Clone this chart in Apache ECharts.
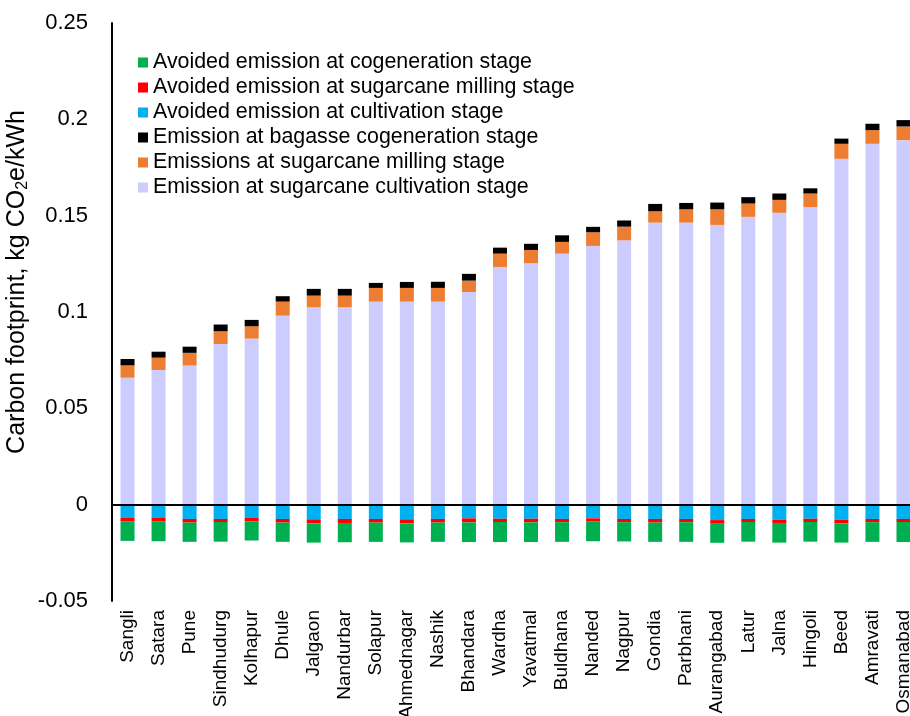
<!DOCTYPE html>
<html>
<head>
<meta charset="utf-8">
<script src="https://cdn.jsdelivr.net/npm/echarts@6/dist/echarts.min.js"></script>
<style>
  html, body { margin: 0; padding: 0; background: #fff; overflow: hidden; }
  #chart { width: 910px; height: 716px; }
</style>
</head>
<body>
<div id="chart"></div>
<script>
// Districts (x categories)
var districts = ['Sangli', 'Satara', 'Pune', 'Sindhudurg', 'Kolhapur', 'Dhule', 'Jalgaon', 'Nandurbar',
  'Solapur', 'Ahmednagar', 'Nashik', 'Bhandara', 'Wardha', 'Yavatmal', 'Buldhana', 'Nanded', 'Nagpur',
  'Gondia', 'Parbhani', 'Aurangabad', 'Latur', 'Jalna', 'Hingoli', 'Beed', 'Amravati', 'Osmanabad'];

// Emissions, kg CO2e/kWh
var cultivation = [0.0659, 0.0699, 0.0722, 0.0834, 0.0862, 0.0981, 0.1024, 0.1024, 0.1054, 0.1054, 0.1054,
  0.1104, 0.1234, 0.1253, 0.1303, 0.1343, 0.1372, 0.1464, 0.1464, 0.1452, 0.1494, 0.1515, 0.1544, 0.1795,
  0.1873, 0.1892];
var milling = [0.0064, 0.0064, 0.0066, 0.0066, 0.0064, 0.0073, 0.0061, 0.0061, 0.0071, 0.0071, 0.0071,
  0.0059, 0.0069, 0.0069, 0.0061, 0.0071, 0.0071, 0.0059, 0.0069, 0.0081, 0.0069, 0.0067, 0.0071, 0.0078,
  0.0071, 0.0071];
var cogeneration = [0.0033, 0.0031, 0.0032, 0.0035, 0.0033, 0.0028, 0.0035, 0.0035, 0.0026, 0.0031, 0.0032,
  0.0035, 0.0031, 0.0032, 0.0034, 0.0028, 0.0032, 0.0038, 0.0033, 0.0035, 0.0033, 0.0033, 0.0027, 0.0027,
  0.0033, 0.0033];

// Avoided emissions (negative), kg CO2e/kWh
var avoidedCultivation = [-0.0069, -0.0069, -0.0074, -0.0074, -0.0069, -0.0074, -0.0076, -0.0074, -0.0074,
  -0.0076, -0.0074, -0.0071, -0.0073, -0.0073, -0.0074, -0.0071, -0.0074, -0.0074, -0.0074, -0.0080, -0.0074,
  -0.0078, -0.0073, -0.0078, -0.0074, -0.0074];
var avoidedMilling = [-0.0019, -0.0019, -0.0019, -0.0016, -0.0017, -0.0019, -0.0021, -0.0021, -0.0019,
  -0.0021, -0.0019, -0.0021, -0.0017, -0.0019, -0.0017, -0.0017, -0.0017, -0.0019, -0.0017, -0.0019, -0.0016,
  -0.0017, -0.0017, -0.0019, -0.0017, -0.0016];
var avoidedCogeneration = [-0.0100, -0.0102, -0.0100, -0.0102, -0.0100, -0.0100, -0.0100, -0.0100, -0.0100,
  -0.0099, -0.0100, -0.0102, -0.0104, -0.0102, -0.0102, -0.0102, -0.0100, -0.0100, -0.0102, -0.0099, -0.0102,
  -0.0102, -0.0102, -0.0100, -0.0102, -0.0104];

var FONT = '"Liberation Sans", Arial, sans-serif';

function bar(name, data, color, extra) {
  var s = {
    name: name,
    type: 'bar',
    stack: 'total',
    barWidth: 14,
    data: data,
    itemStyle: { color: color },
    emphasis: { disabled: true }
  };
  if (extra) { for (var k in extra) s[k] = extra[k]; }
  return s;
}

var chart = echarts.init(document.getElementById('chart'), null, { renderer: 'canvas' });

chart.setOption({
  animation: false,
  backgroundColor: '#ffffff',
  // the last category band runs a little past the right edge of the canvas,
  // and the long district names are allowed to run off the bottom
  grid: { left: 112, width: 807, top: 23, bottom: 115, containLabel: false, outerBoundsMode: 'none' },
  legend: {
    orient: 'vertical',
    left: 133,
    top: 47,
    icon: 'rect',
    itemWidth: 10,
    itemHeight: 10,
    itemGap: 4,
    textStyle: { fontFamily: FONT, fontSize: 21.4, color: '#000', lineHeight: 21 },
    data: [
      'Avoided emission at cogeneration stage',
      'Avoided emission at sugarcane milling stage',
      'Avoided emission at cultivation stage',
      'Emission at bagasse cogeneration stage',
      'Emissions at sugarcane milling stage',
      'Emission at sugarcane cultivation stage'
    ]
  },
  xAxis: {
    type: 'category',
    data: districts,
    axisLine: { show: false, onZero: false },
    axisTick: { show: false },
    axisLabel: {
      rotate: 90,
      interval: 0,
      margin: 9,
      fontFamily: FONT,
      fontSize: 19,
      color: '#000'
    },
    splitLine: { show: false }
  },
  yAxis: {
    type: 'value',
    min: -0.05,
    max: 0.25,
    interval: 0.05,
    axisLine: { show: true, lineStyle: { color: '#000', width: 2 } },
    axisTick: { show: false },
    splitLine: { show: false },
    axisLabel: {
      margin: 24,
      fontFamily: FONT,
      fontSize: 22,
      color: '#000',
      formatter: function (v) { return String(Math.round(v * 100) / 100); }
    }
  },
  graphic: [{
    type: 'text',
    x: 17,
    y: 282,
    rotation: Math.PI / 2,
    style: {
      text: '{a|Carbon footprint, kg CO}{s|2}{a|e/kWh}',
      align: 'center',
      verticalAlign: 'middle',
      fill: '#000',
      rich: {
        a: { fontFamily: FONT, fontSize: 25, fill: '#000' },
        s: { fontFamily: FONT, fontSize: 16, fill: '#000', padding: [12, 0, 0, 0] }
      }
    }
  }],
  series: [
    bar('Emission at sugarcane cultivation stage', cultivation, '#CCCCFF', {
      markLine: {
        silent: true,
        symbol: 'none',
        label: { show: false },
        lineStyle: { color: '#000', width: 2, type: 'solid' },
        data: [{ yAxis: 0 }]
      }
    }),
    bar('Emissions at sugarcane milling stage', milling, '#ED7D31'),
    bar('Emission at bagasse cogeneration stage', cogeneration, '#000000'),
    bar('Avoided emission at cultivation stage', avoidedCultivation, '#00B0F0'),
    bar('Avoided emission at sugarcane milling stage', avoidedMilling, '#FF0000'),
    bar('Avoided emission at cogeneration stage', avoidedCogeneration, '#00B050')
  ]
});
</script>
</body>
</html>
